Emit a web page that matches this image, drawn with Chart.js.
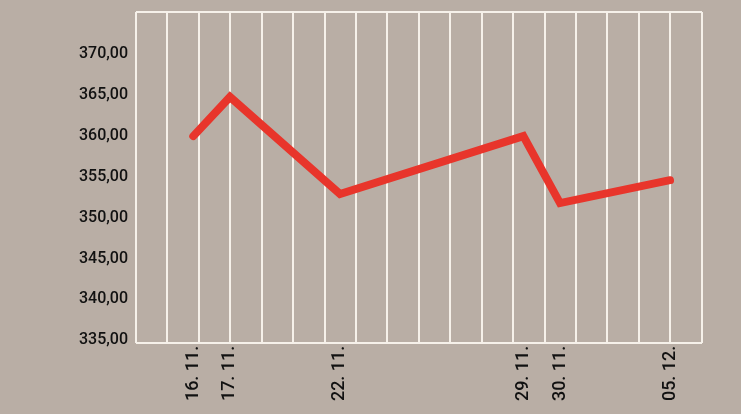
<!DOCTYPE html>
<html>
<head>
<meta charset="utf-8">
<script src="https://cdn.jsdelivr.net/npm/chart.js@4"></script>
<style>
  html, body { margin: 0; padding: 0; background: #b9aea5; }
  #wrap { width: 741px; height: 414px; }
</style>
</head>
<body>
<div id="wrap"><canvas id="priceChart"></canvas></div>
<script>
// --- data ---
const dates = ['16. 11.', '17. 11.', '22. 11.', '29. 11.', '30. 11.', '05. 12.'];
const tradingDay = [0, 1, 4, 9, 10, 13];   // trading-day index of each date
const prices = [360.0, 364.8, 352.9, 360.0, 351.8, 354.6];
const yTicks = [335, 340, 345, 350, 355, 360, 365, 370];

const FONT = "Roboto, 'Liberation Sans', sans-serif";
const LINE_WHITE = '#f6f1ea';

const points = tradingDay.map((d, i) => ({ x: d, y: prices[i] }));

// keep the plot frame where the reference has it
function fixWidth(w) {
    return s => { s.width = w; s.paddingTop = 0; s.paddingBottom = 0; };
}
function fixHeight(h) {
    return s => { s.height = h; s.paddingLeft = 0; s.paddingRight = 0; };
}

const ctx = document.getElementById('priceChart').getContext('2d');
new Chart(ctx, {
    type: 'line',
    data: {
        datasets: [{
            data: points,
            borderColor: '#e8352b',
            borderWidth: 8,
            borderCapStyle: 'round',
            borderJoinStyle: 'miter',
            pointRadius: 0,
            tension: 0,
            fill: false
        }]
    },
    options: {
        responsive: true,
        maintainAspectRatio: false,
        animation: false,
        layout: { padding: { top: 12, right: 39.3, left: 0, bottom: 0 } },
        plugins: { legend: { display: false }, tooltip: { enabled: false } },
        scales: {
            x: {
                type: 'linear',
                min: -1.563,
                max: 13.864,
                afterBuildTicks: s => { s.ticks = tradingDay.map(v => ({ value: v })); },
                afterFit: fixHeight(71.3),
                grid: { display: false, drawTicks: false },
                border: { display: false },
                ticks: {
                    autoSkip: false,
                    minRotation: 90,
                    maxRotation: 90,
                    padding: 3,
                    color: '#111',
                    font: { family: FONT, size: 18, weight: '500' },
                    callback: v => dates[tradingDay.indexOf(v)]
                }
            },
            // decorative vertical grid (19 lines incl. left/right frame)
            xg: {
                type: 'linear',
                position: 'bottom',
                min: 0,
                max: 18,
                afterFit: fixHeight(0),
                ticks: { display: false, stepSize: 1 },
                grid: { color: LINE_WHITE, lineWidth: 2, drawTicks: false },
                border: { display: false }
            },
            y: {
                min: 334.7,
                max: 375.2,
                afterBuildTicks: s => { s.ticks = yTicks.map(v => ({ value: v })); },
                afterFit: fixWidth(136),
                grid: { display: false, drawTicks: false },
                border: { display: false },
                ticks: {
                    padding: 8,
                    color: '#111',
                    font: { family: FONT, size: 16, weight: '500' },
                    callback: v => v.toFixed(2).replace('.', ',')
                }
            },
            // top and bottom frame lines
            yg: {
                position: 'right',
                min: 334.7,
                max: 375.2,
                afterBuildTicks: s => { s.ticks = [{ value: 334.7 }, { value: 375.2 }]; },
                afterFit: fixWidth(0),
                ticks: { display: false },
                grid: { color: LINE_WHITE, lineWidth: 2, drawTicks: false },
                border: { display: false }
            }
        }
    }
});
</script>
</body>
</html>
